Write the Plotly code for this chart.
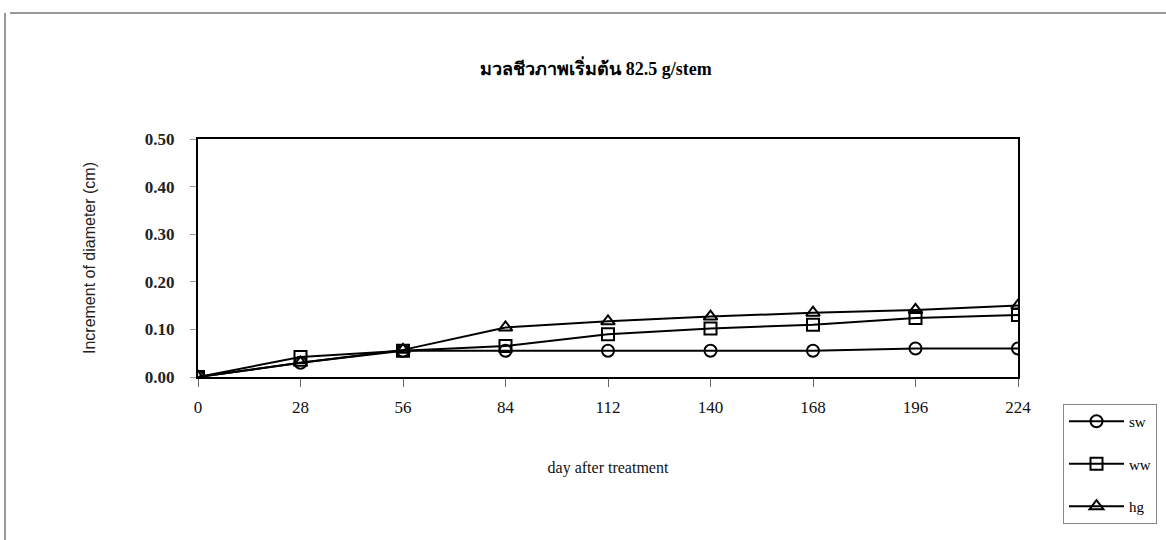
import plotly.graph_objects as go

days = [0, 28, 56, 84, 112, 140, 168, 196, 224]
sw = [0.00, 0.030, 0.055, 0.055, 0.055, 0.055, 0.055, 0.060, 0.060]
ww = [0.00, 0.042, 0.055, 0.065, 0.090, 0.102, 0.110, 0.124, 0.130]
hg = [0.00, 0.030, 0.057, 0.104, 0.117, 0.127, 0.135, 0.141, 0.150]
y_ticks = [0.0, 0.1, 0.2, 0.3, 0.4, 0.5]
y_tick_text = ["0.00", "0.10", "0.20", "0.30", "0.40", "0.50"]

W, H = 1166, 540
L, R, T, B = 198, 148, 139, 163

series = [
    ("sw", sw, "circle-open"),
    ("ww", ww, "square-open"),
    ("hg", hg, "triangle-up-open"),
]

fig = go.Figure()
for name, vals, sym in series:
    fig.add_trace(go.Scatter(
        x=days, y=vals, name=name, legendgroup=name,
        mode="lines+markers",
        line=dict(color="black", width=2),
        marker=dict(symbol=sym, size=12, color="black",
                    line=dict(color="black", width=2)),
    ))

serif = "Liberation Serif, Times New Roman, serif"

fig.update_layout(
    width=W, height=H,
    margin=dict(l=L, r=R, t=T, b=B, autoexpand=False),
    paper_bgcolor="white", plot_bgcolor="white",
    title=dict(text="<b>มวลชีวภาพเริ่มต้น 82.5 g/stem</b>",
               x=596 / W, xanchor="center", xref="container",
               y=1 - 69 / H, yref="container", yanchor="middle",
               font=dict(family=serif, size=18, color="black")),
    xaxis=dict(range=[0, 224], tickvals=days, ticktext=[str(d) for d in days],
               showgrid=False, zeroline=False, showline=True, mirror=True,
               linecolor="black", linewidth=2,
               ticks="outside", ticklen=8, tickcolor="#666", tickwidth=1,
               ticklabelstandoff=6,
               tickfont=dict(family=serif, size=17, color="#111"),
               title=dict(text="day after treatment", standoff=45,
                          font=dict(family=serif, size=16, color="#111"))),
    yaxis=dict(range=[0, 0.5], tickvals=y_ticks, ticktext=y_tick_text,
               showgrid=False, zeroline=False, showline=True, mirror=True,
               linecolor="black", linewidth=2,
               ticks="outside", ticklen=6, tickcolor="#999", tickwidth=1,
               ticklabelstandoff=12,
               tickfont=dict(family=serif, size=17, color="#222", weight="bold"),
               title=dict(text="Increment of diameter (cm)", standoff=45,
                          font=dict(family="Liberation Sans, Arial, sans-serif",
                                    size=16, color="#222"))),
    legend=dict(x=(1063 - L) / (W - L - R), xanchor="left",
                y=-(404 - (H - B)) / (H - T - B), yanchor="top",
                bgcolor="white", bordercolor="#888", borderwidth=1,
                tracegroupgap=20, itemwidth=55,
                font=dict(family=serif, size=15, color="black")),
    showlegend=True,
)

# outer frame of the chart area
fig.add_shape(type="line", xref="paper", yref="paper",
              x0=(5 - L) / (W - L - R), x1=(5 - L) / (W - L - R),
              y0=(H - B - 13) / (H - T - B), y1=(H - B - 540) / (H - T - B),
              line=dict(color="#999", width=2))
fig.add_shape(type="line", xref="paper", yref="paper",
              x0=(10 - L) / (W - L - R), x1=(W - L) / (W - L - R),
              y0=(H - B - 13) / (H - T - B), y1=(H - B - 13) / (H - T - B),
              line=dict(color="#999", width=2))

fig.write_html("out.html")
